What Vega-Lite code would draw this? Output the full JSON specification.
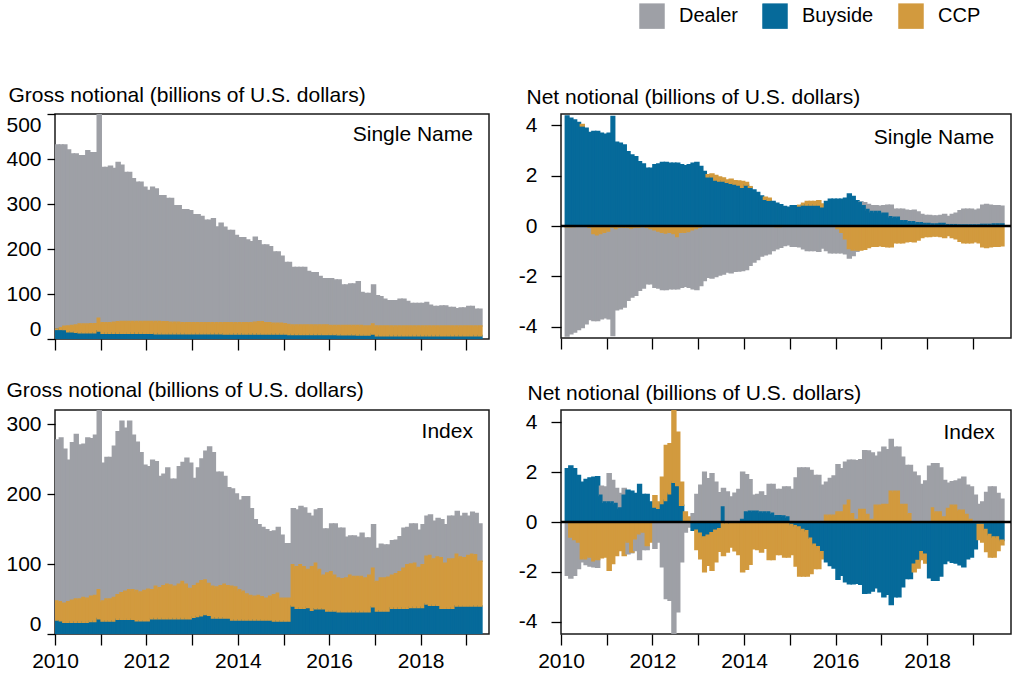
{
"$schema": "https://vega.github.io/schema/vega-lite/v6.json",
"padding": {"left": 5, "top": 3, "right": 3, "bottom": 5},
"columns": 2,
"bounds": "flush",
"spacing": {"row": 71, "column": 72},
"config": {
  "font": "Liberation Sans",
  "view": {"stroke": "#1a1a1a", "strokeWidth": 1.5},
  "bar": {"binSpacing": 0, "timeUnitBandSize": 1},
  "axis": {"domain": false, "grid": false, "labelFont": "Liberation Sans", "labelFontSize": 21, "labelColor": "#000", "tickColor": "#000", "tickWidth": 1.3, "titleFont": "Liberation Sans", "titleFontSize": 21, "titleFontWeight": "normal", "titleColor": "#000"},
  "legend": {"orient": "none", "legendX": 584, "legendY": -111, "direction": "horizontal", "symbolType": "square", "symbolSize": 650, "symbolStrokeWidth": 0, "labelFont": "Liberation Sans", "labelFontSize": 20, "labelColor": "#000", "labelOffset": 14, "columnPadding": 24, "title": null}
},
"datasets": {
"gsn": [
{"d":"2010-01","Buyside":21.5,"CCP":0.5,"Dealer":409},{"d":"2010-02","Buyside":21.5,"CCP":3.5,"Dealer":406},{"d":"2010-03","Buyside":21,"CCP":7,"Dealer":403},{"d":"2010-04","Buyside":16,"CCP":13,"Dealer":391},{"d":"2010-05","Buyside":16,"CCP":14,"Dealer":381},{"d":"2010-06","Buyside":15,"CCP":16,"Dealer":380},{"d":"2010-07","Buyside":14,"CCP":19,"Dealer":374},{"d":"2010-08","Buyside":14,"CCP":19,"Dealer":374},{"d":"2010-09","Buyside":14,"CCP":19,"Dealer":385},{"d":"2010-10","Buyside":14,"CCP":20,"Dealer":380},{"d":"2010-11","Buyside":14,"CCP":20,"Dealer":380},{"d":"2010-12","Buyside":18,"CCP":28,"Dealer":484},
{"d":"2011-01","Buyside":13,"CCP":23,"Dealer":345},{"d":"2011-02","Buyside":13,"CCP":23,"Dealer":345},{"d":"2011-03","Buyside":13,"CCP":23,"Dealer":348},{"d":"2011-04","Buyside":13,"CCP":24,"Dealer":342},{"d":"2011-05","Buyside":13,"CCP":25,"Dealer":354},{"d":"2011-06","Buyside":13,"CCP":26,"Dealer":347},{"d":"2011-07","Buyside":13,"CCP":26,"Dealer":331},{"d":"2011-08","Buyside":13,"CCP":26,"Dealer":331},{"d":"2011-09","Buyside":13,"CCP":26,"Dealer":317},{"d":"2011-10","Buyside":13,"CCP":26,"Dealer":309},{"d":"2011-11","Buyside":13,"CCP":26,"Dealer":309},{"d":"2011-12","Buyside":13,"CCP":26,"Dealer":298},
{"d":"2012-01","Buyside":13,"CCP":26,"Dealer":291},{"d":"2012-02","Buyside":13,"CCP":26,"Dealer":298},{"d":"2012-03","Buyside":12,"CCP":27,"Dealer":294},{"d":"2012-04","Buyside":12,"CCP":27,"Dealer":279},{"d":"2012-05","Buyside":12,"CCP":26,"Dealer":280},{"d":"2012-06","Buyside":12,"CCP":26,"Dealer":274},{"d":"2012-07","Buyside":12,"CCP":25,"Dealer":275},{"d":"2012-08","Buyside":12,"CCP":25,"Dealer":259},{"d":"2012-09","Buyside":12,"CCP":25,"Dealer":259},{"d":"2012-10","Buyside":12,"CCP":24,"Dealer":251},{"d":"2012-11","Buyside":12,"CCP":24,"Dealer":251},{"d":"2012-12","Buyside":12,"CCP":24,"Dealer":249},
{"d":"2013-01","Buyside":12,"CCP":24,"Dealer":240},{"d":"2013-02","Buyside":12,"CCP":24,"Dealer":240},{"d":"2013-03","Buyside":12,"CCP":24,"Dealer":236},{"d":"2013-04","Buyside":12,"CCP":24,"Dealer":228},{"d":"2013-05","Buyside":12,"CCP":24,"Dealer":228},{"d":"2013-06","Buyside":12,"CCP":24,"Dealer":231},{"d":"2013-07","Buyside":12,"CCP":24,"Dealer":213},{"d":"2013-08","Buyside":12,"CCP":24,"Dealer":221},{"d":"2013-09","Buyside":11.5,"CCP":24.5,"Dealer":212},{"d":"2013-10","Buyside":11.5,"CCP":24.5,"Dealer":205},{"d":"2013-11","Buyside":11.5,"CCP":24.5,"Dealer":205},{"d":"2013-12","Buyside":11.5,"CCP":24.5,"Dealer":194},
{"d":"2014-01","Buyside":11.5,"CCP":24.5,"Dealer":189},{"d":"2014-02","Buyside":11.5,"CCP":24.5,"Dealer":189},{"d":"2014-03","Buyside":11.5,"CCP":24.5,"Dealer":184},{"d":"2014-04","Buyside":11.5,"CCP":24.5,"Dealer":180},{"d":"2014-05","Buyside":11.5,"CCP":25.5,"Dealer":189},{"d":"2014-06","Buyside":11.5,"CCP":26.5,"Dealer":180},{"d":"2014-07","Buyside":11.5,"CCP":26.5,"Dealer":171},{"d":"2014-08","Buyside":11.5,"CCP":24.5,"Dealer":173},{"d":"2014-09","Buyside":11,"CCP":25,"Dealer":169},{"d":"2014-10","Buyside":11,"CCP":24,"Dealer":158},{"d":"2014-11","Buyside":11,"CCP":24,"Dealer":158},{"d":"2014-12","Buyside":11,"CCP":24,"Dealer":149},
{"d":"2015-01","Buyside":11,"CCP":23,"Dealer":136},{"d":"2015-02","Buyside":10,"CCP":22,"Dealer":138},{"d":"2015-03","Buyside":10,"CCP":21,"Dealer":128},{"d":"2015-04","Buyside":10,"CCP":21,"Dealer":128},{"d":"2015-05","Buyside":10,"CCP":21,"Dealer":128},{"d":"2015-06","Buyside":10,"CCP":21,"Dealer":128},{"d":"2015-07","Buyside":10,"CCP":21,"Dealer":119},{"d":"2015-08","Buyside":10,"CCP":21,"Dealer":116},{"d":"2015-09","Buyside":10,"CCP":21,"Dealer":116},{"d":"2015-10","Buyside":10,"CCP":21,"Dealer":108},{"d":"2015-11","Buyside":10,"CCP":21,"Dealer":103},{"d":"2015-12","Buyside":10,"CCP":21,"Dealer":103},
{"d":"2016-01","Buyside":10,"CCP":20,"Dealer":104},{"d":"2016-02","Buyside":10,"CCP":20,"Dealer":101},{"d":"2016-03","Buyside":9.5,"CCP":20.5,"Dealer":101},{"d":"2016-04","Buyside":9.5,"CCP":20.5,"Dealer":90},{"d":"2016-05","Buyside":9.5,"CCP":20.5,"Dealer":90},{"d":"2016-06","Buyside":9.5,"CCP":20.5,"Dealer":92},{"d":"2016-07","Buyside":9.5,"CCP":20.5,"Dealer":92},{"d":"2016-08","Buyside":9,"CCP":21,"Dealer":97},{"d":"2016-09","Buyside":9,"CCP":21,"Dealer":73},{"d":"2016-10","Buyside":9,"CCP":20,"Dealer":72},{"d":"2016-11","Buyside":9,"CCP":20,"Dealer":72},{"d":"2016-12","Buyside":11,"CCP":22,"Dealer":87},
{"d":"2017-01","Buyside":7.5,"CCP":21.5,"Dealer":67},{"d":"2017-02","Buyside":7.5,"CCP":21.5,"Dealer":65},{"d":"2017-03","Buyside":7.5,"CCP":21.5,"Dealer":59},{"d":"2017-04","Buyside":7.5,"CCP":21.5,"Dealer":56},{"d":"2017-05","Buyside":7.5,"CCP":21.5,"Dealer":56},{"d":"2017-06","Buyside":7.5,"CCP":21.5,"Dealer":56},{"d":"2017-07","Buyside":7.5,"CCP":21.5,"Dealer":59},{"d":"2017-08","Buyside":7.5,"CCP":21.5,"Dealer":59},{"d":"2017-09","Buyside":7.5,"CCP":21.5,"Dealer":54},{"d":"2017-10","Buyside":7.5,"CCP":21.5,"Dealer":50},{"d":"2017-11","Buyside":7.5,"CCP":21.5,"Dealer":50},{"d":"2017-12","Buyside":7.5,"CCP":21.5,"Dealer":50},
{"d":"2018-01","Buyside":7.5,"CCP":21.5,"Dealer":50},{"d":"2018-02","Buyside":7.5,"CCP":21.5,"Dealer":52},{"d":"2018-03","Buyside":7.5,"CCP":21.5,"Dealer":46},{"d":"2018-04","Buyside":7.5,"CCP":21.5,"Dealer":43},{"d":"2018-05","Buyside":7.5,"CCP":21.5,"Dealer":43},{"d":"2018-06","Buyside":7.5,"CCP":21.5,"Dealer":44},{"d":"2018-07","Buyside":7.5,"CCP":21.5,"Dealer":44},{"d":"2018-08","Buyside":7.5,"CCP":21.5,"Dealer":41},{"d":"2018-09","Buyside":7.5,"CCP":21.5,"Dealer":41},{"d":"2018-10","Buyside":7.5,"CCP":21.5,"Dealer":38},{"d":"2018-11","Buyside":7.5,"CCP":21.5,"Dealer":40},{"d":"2018-12","Buyside":7.5,"CCP":21.5,"Dealer":40},
{"d":"2019-01","Buyside":7.5,"CCP":21.5,"Dealer":43},{"d":"2019-02","Buyside":7.5,"CCP":21.5,"Dealer":43},{"d":"2019-03","Buyside":7.5,"CCP":21.5,"Dealer":37},{"d":"2019-04","Buyside":7.5,"CCP":21.5,"Dealer":37}
],
"gix": [
{"d":"2010-01","Buyside":20,"CCP":27,"Dealer":230},{"d":"2010-02","Buyside":19,"CCP":27,"Dealer":234},{"d":"2010-03","Buyside":17,"CCP":27,"Dealer":220},{"d":"2010-04","Buyside":17,"CCP":29,"Dealer":202},{"d":"2010-05","Buyside":17,"CCP":31,"Dealer":225},{"d":"2010-06","Buyside":17,"CCP":33,"Dealer":235},{"d":"2010-07","Buyside":17,"CCP":33,"Dealer":220},{"d":"2010-08","Buyside":17,"CCP":35,"Dealer":219},{"d":"2010-09","Buyside":17,"CCP":34,"Dealer":229},{"d":"2010-10","Buyside":18,"CCP":36,"Dealer":225},{"d":"2010-11","Buyside":18,"CCP":37,"Dealer":229},{"d":"2010-12","Buyside":22,"CCP":41,"Dealer":277},
{"d":"2011-01","Buyside":18.5,"CCP":28.5,"Dealer":197},{"d":"2011-02","Buyside":18.5,"CCP":31.5,"Dealer":202},{"d":"2011-03","Buyside":18.5,"CCP":31.5,"Dealer":202},{"d":"2011-04","Buyside":18.5,"CCP":33.5,"Dealer":216},{"d":"2011-05","Buyside":21,"CCP":35,"Dealer":233},{"d":"2011-06","Buyside":21,"CCP":38,"Dealer":245},{"d":"2011-07","Buyside":21,"CCP":40,"Dealer":233},{"d":"2011-08","Buyside":21,"CCP":42,"Dealer":241},{"d":"2011-09","Buyside":21,"CCP":42,"Dealer":221},{"d":"2011-10","Buyside":19,"CCP":43,"Dealer":212},{"d":"2011-11","Buyside":19,"CCP":41,"Dealer":199},{"d":"2011-12","Buyside":19,"CCP":43,"Dealer":179},
{"d":"2012-01","Buyside":19,"CCP":45,"Dealer":175},{"d":"2012-02","Buyside":22,"CCP":41,"Dealer":185},{"d":"2012-03","Buyside":22,"CCP":46,"Dealer":178},{"d":"2012-04","Buyside":22,"CCP":44,"Dealer":159},{"d":"2012-05","Buyside":22,"CCP":47,"Dealer":159},{"d":"2012-06","Buyside":22,"CCP":49,"Dealer":166},{"d":"2012-07","Buyside":22,"CCP":48,"Dealer":151},{"d":"2012-08","Buyside":22,"CCP":46,"Dealer":153},{"d":"2012-09","Buyside":22,"CCP":49,"Dealer":168},{"d":"2012-10","Buyside":22,"CCP":53,"Dealer":170},{"d":"2012-11","Buyside":22,"CCP":49,"Dealer":180},{"d":"2012-12","Buyside":22,"CCP":43,"Dealer":179},
{"d":"2013-01","Buyside":24,"CCP":45,"Dealer":153},{"d":"2013-02","Buyside":25,"CCP":47,"Dealer":165},{"d":"2013-03","Buyside":26,"CCP":50,"Dealer":174},{"d":"2013-04","Buyside":28,"CCP":49,"Dealer":184},{"d":"2013-05","Buyside":27,"CCP":45,"Dealer":195},{"d":"2013-06","Buyside":23,"CCP":45,"Dealer":191},{"d":"2013-07","Buyside":23,"CCP":44,"Dealer":164},{"d":"2013-08","Buyside":23,"CCP":46,"Dealer":162},{"d":"2013-09","Buyside":23,"CCP":48,"Dealer":154},{"d":"2013-10","Buyside":23,"CCP":46,"Dealer":140},{"d":"2013-11","Buyside":20,"CCP":48,"Dealer":139},{"d":"2013-12","Buyside":20,"CCP":47,"Dealer":133},
{"d":"2014-01","Buyside":20,"CCP":43,"Dealer":128},{"d":"2014-02","Buyside":20,"CCP":41,"Dealer":135},{"d":"2014-03","Buyside":20,"CCP":37,"Dealer":139},{"d":"2014-04","Buyside":20,"CCP":35,"Dealer":124},{"d":"2014-05","Buyside":20,"CCP":34,"Dealer":109},{"d":"2014-06","Buyside":20,"CCP":35,"Dealer":101},{"d":"2014-07","Buyside":20,"CCP":33,"Dealer":99},{"d":"2014-08","Buyside":20,"CCP":31,"Dealer":98},{"d":"2014-09","Buyside":20,"CCP":34,"Dealer":92},{"d":"2014-10","Buyside":18.5,"CCP":37.5,"Dealer":91},{"d":"2014-11","Buyside":18.5,"CCP":39.5,"Dealer":94},{"d":"2014-12","Buyside":18.5,"CCP":32.5,"Dealer":90},
{"d":"2015-01","Buyside":18.5,"CCP":32.5,"Dealer":78},{"d":"2015-02","Buyside":18.5,"CCP":32.5,"Dealer":78},{"d":"2015-03","Buyside":40,"CCP":59,"Dealer":80},{"d":"2015-04","Buyside":37,"CCP":59,"Dealer":81},{"d":"2015-05","Buyside":37,"CCP":62,"Dealer":83},{"d":"2015-06","Buyside":37,"CCP":59,"Dealer":84},{"d":"2015-07","Buyside":38,"CCP":54,"Dealer":80},{"d":"2015-08","Buyside":34,"CCP":62,"Dealer":72},{"d":"2015-09","Buyside":36,"CCP":65,"Dealer":76},{"d":"2015-10","Buyside":36,"CCP":56,"Dealer":87},{"d":"2015-11","Buyside":36,"CCP":48,"Dealer":66},{"d":"2015-12","Buyside":33,"CCP":54,"Dealer":63},
{"d":"2016-01","Buyside":33,"CCP":56,"Dealer":68},{"d":"2016-02","Buyside":33,"CCP":51,"Dealer":73},{"d":"2016-03","Buyside":32,"CCP":48,"Dealer":71},{"d":"2016-04","Buyside":32,"CCP":47,"Dealer":72},{"d":"2016-05","Buyside":32,"CCP":48,"Dealer":58},{"d":"2016-06","Buyside":32,"CCP":52,"Dealer":56},{"d":"2016-07","Buyside":32,"CCP":50,"Dealer":58},{"d":"2016-08","Buyside":32,"CCP":50,"Dealer":56},{"d":"2016-09","Buyside":32,"CCP":50,"Dealer":62},{"d":"2016-10","Buyside":32,"CCP":48,"Dealer":57},{"d":"2016-11","Buyside":32,"CCP":52,"Dealer":53},{"d":"2016-12","Buyside":39,"CCP":55,"Dealer":62},
{"d":"2017-01","Buyside":33,"CCP":42,"Dealer":47},{"d":"2017-02","Buyside":33,"CCP":47,"Dealer":48},{"d":"2017-03","Buyside":33,"CCP":47,"Dealer":47},{"d":"2017-04","Buyside":33,"CCP":48,"Dealer":46},{"d":"2017-05","Buyside":37,"CCP":47,"Dealer":49},{"d":"2017-06","Buyside":37,"CCP":49,"Dealer":48},{"d":"2017-07","Buyside":37,"CCP":52,"Dealer":50},{"d":"2017-08","Buyside":37,"CCP":57,"Dealer":57},{"d":"2017-09","Buyside":37,"CCP":62,"Dealer":53},{"d":"2017-10","Buyside":38,"CCP":62,"Dealer":57},{"d":"2017-11","Buyside":38,"CCP":63,"Dealer":56},{"d":"2017-12","Buyside":38,"CCP":57,"Dealer":53},
{"d":"2018-01","Buyside":38,"CCP":61,"Dealer":57},{"d":"2018-02","Buyside":43,"CCP":68,"Dealer":57},{"d":"2018-03","Buyside":41,"CCP":71,"Dealer":58},{"d":"2018-04","Buyside":41,"CCP":66,"Dealer":54},{"d":"2018-05","Buyside":41,"CCP":69,"Dealer":55},{"d":"2018-06","Buyside":37,"CCP":72,"Dealer":54},{"d":"2018-07","Buyside":37,"CCP":64,"Dealer":55},{"d":"2018-08","Buyside":37,"CCP":70,"Dealer":61},{"d":"2018-09","Buyside":37,"CCP":70,"Dealer":61},{"d":"2018-10","Buyside":40,"CCP":74,"Dealer":61},{"d":"2018-11","Buyside":40,"CCP":70,"Dealer":58},{"d":"2018-12","Buyside":40,"CCP":69,"Dealer":63},
{"d":"2019-01","Buyside":40,"CCP":72,"Dealer":56},{"d":"2019-02","Buyside":40,"CCP":74,"Dealer":60},{"d":"2019-03","Buyside":40,"CCP":73,"Dealer":59},{"d":"2019-04","Buyside":40,"CCP":64,"Dealer":53}
],
"nsn": [
{"d":"2010-02","Buyside":4.37,"CCP":-0.03,"Dealer":-4.34},{"d":"2010-03","Buyside":4.28,"CCP":-0.03,"Dealer":-4.25},{"d":"2010-04","Buyside":4.21,"CCP":-0.02,"Dealer":-4.19},{"d":"2010-05","Buyside":4.11,"CCP":0,"Dealer":-4.11},{"d":"2010-06","Buyside":3.98,"CCP":0.05,"Dealer":-4.03},{"d":"2010-07","Buyside":3.88,"CCP":0,"Dealer":-3.88},{"d":"2010-08","Buyside":3.71,"CCP":-0.05,"Dealer":-3.66},{"d":"2010-09","Buyside":3.75,"CCP":-0.3,"Dealer":-3.45},{"d":"2010-10","Buyside":3.75,"CCP":-0.35,"Dealer":-3.4},{"d":"2010-11","Buyside":3.68,"CCP":-0.3,"Dealer":-3.38},{"d":"2010-12","Buyside":3.64,"CCP":-0.25,"Dealer":-3.39},
{"d":"2011-01","Buyside":3.68,"CCP":-0.2,"Dealer":-3.48},{"d":"2011-02","Buyside":4.35,"CCP":-0.05,"Dealer":-4.3},{"d":"2011-03","Buyside":3.33,"CCP":-0.1,"Dealer":-3.23},{"d":"2011-04","Buyside":3.29,"CCP":-0.05,"Dealer":-3.24},{"d":"2011-05","Buyside":3.22,"CCP":-0.05,"Dealer":-3.17},{"d":"2011-06","Buyside":2.95,"CCP":-0.05,"Dealer":-2.9},{"d":"2011-07","Buyside":2.82,"CCP":-0.08,"Dealer":-2.74},{"d":"2011-08","Buyside":2.75,"CCP":-0.05,"Dealer":-2.7},{"d":"2011-09","Buyside":2.55,"CCP":-0.05,"Dealer":-2.5},{"d":"2011-10","Buyside":2.46,"CCP":-0.02,"Dealer":-2.44},{"d":"2011-11","Buyside":2.29,"CCP":-0.05,"Dealer":-2.24},{"d":"2011-12","Buyside":2.29,"CCP":-0.1,"Dealer":-2.19},
{"d":"2012-01","Buyside":2.43,"CCP":-0.15,"Dealer":-2.28},{"d":"2012-02","Buyside":2.46,"CCP":-0.2,"Dealer":-2.26},{"d":"2012-03","Buyside":2.52,"CCP":-0.25,"Dealer":-2.27},{"d":"2012-04","Buyside":2.52,"CCP":-0.28,"Dealer":-2.24},{"d":"2012-05","Buyside":2.49,"CCP":-0.25,"Dealer":-2.24},{"d":"2012-06","Buyside":2.49,"CCP":-0.3,"Dealer":-2.19},{"d":"2012-07","Buyside":2.49,"CCP":-0.42,"Dealer":-2.07},{"d":"2012-08","Buyside":2.43,"CCP":-0.25,"Dealer":-2.18},{"d":"2012-09","Buyside":2.39,"CCP":-0.25,"Dealer":-2.14},{"d":"2012-10","Buyside":2.43,"CCP":-0.22,"Dealer":-2.21},{"d":"2012-11","Buyside":2.49,"CCP":-0.15,"Dealer":-2.34},{"d":"2012-12","Buyside":2.52,"CCP":-0.1,"Dealer":-2.42},
{"d":"2013-01","Buyside":2.36,"CCP":-0.05,"Dealer":-2.31},{"d":"2013-02","Buyside":2.16,"CCP":0,"Dealer":-2.16},{"d":"2013-03","Buyside":1.96,"CCP":0.07,"Dealer":-2.03},{"d":"2013-04","Buyside":1.96,"CCP":0.1,"Dealer":-2.06},{"d":"2013-05","Buyside":1.83,"CCP":0.17,"Dealer":-2.0},{"d":"2013-06","Buyside":1.79,"CCP":0.15,"Dealer":-1.94},{"d":"2013-07","Buyside":1.79,"CCP":0.12,"Dealer":-1.91},{"d":"2013-08","Buyside":1.74,"CCP":0.09,"Dealer":-1.83},{"d":"2013-09","Buyside":1.7,"CCP":0.16,"Dealer":-1.86},{"d":"2013-10","Buyside":1.67,"CCP":0.13,"Dealer":-1.8},{"d":"2013-11","Buyside":1.63,"CCP":0.16,"Dealer":-1.79},{"d":"2013-12","Buyside":1.54,"CCP":0.23,"Dealer":-1.77},
{"d":"2014-01","Buyside":1.63,"CCP":0.1,"Dealer":-1.73},{"d":"2014-02","Buyside":1.54,"CCP":0.02,"Dealer":-1.56},{"d":"2014-03","Buyside":1.43,"CCP":0,"Dealer":-1.43},{"d":"2014-04","Buyside":1.33,"CCP":0,"Dealer":-1.33},{"d":"2014-05","Buyside":1.19,"CCP":0,"Dealer":-1.19},{"d":"2014-06","Buyside":1.06,"CCP":0.08,"Dealer":-1.14},{"d":"2014-07","Buyside":1.03,"CCP":0.07,"Dealer":-1.1},{"d":"2014-08","Buyside":0.97,"CCP":0,"Dealer":-0.97},{"d":"2014-09","Buyside":0.9,"CCP":-0.02,"Dealer":-0.88},{"d":"2014-10","Buyside":0.84,"CCP":-0.02,"Dealer":-0.82},{"d":"2014-11","Buyside":0.77,"CCP":0,"Dealer":-0.77},{"d":"2014-12","Buyside":0.74,"CCP":0,"Dealer":-0.74},
{"d":"2015-01","Buyside":0.8,"CCP":0,"Dealer":-0.8},{"d":"2015-02","Buyside":0.8,"CCP":0,"Dealer":-0.8},{"d":"2015-03","Buyside":0.8,"CCP":0.02,"Dealer":-0.82},{"d":"2015-04","Buyside":0.84,"CCP":0.06,"Dealer":-0.9},{"d":"2015-05","Buyside":0.84,"CCP":0.13,"Dealer":-0.97},{"d":"2015-06","Buyside":0.84,"CCP":0.13,"Dealer":-0.97},{"d":"2015-07","Buyside":0.84,"CCP":0.13,"Dealer":-0.97},{"d":"2015-08","Buyside":0.84,"CCP":0.16,"Dealer":-1.0},{"d":"2015-09","Buyside":0.77,"CCP":0.1,"Dealer":-0.87},{"d":"2015-10","Buyside":0.97,"CCP":0,"Dealer":-0.97},{"d":"2015-11","Buyside":1.06,"CCP":0,"Dealer":-1.06},{"d":"2015-12","Buyside":1.06,"CCP":0,"Dealer":-1.06},
{"d":"2016-01","Buyside":1.06,"CCP":-0.1,"Dealer":-0.96},{"d":"2016-02","Buyside":1.06,"CCP":-0.25,"Dealer":-0.81},{"d":"2016-03","Buyside":1.1,"CCP":-0.5,"Dealer":-0.6},{"d":"2016-04","Buyside":1.27,"CCP":-0.89,"Dealer":-0.38},{"d":"2016-05","Buyside":1.17,"CCP":-0.95,"Dealer":-0.22},{"d":"2016-06","Buyside":1.0,"CCP":-0.95,"Dealer":-0.05},{"d":"2016-07","Buyside":0.93,"CCP":-0.95,"Dealer":0.02},{"d":"2016-08","Buyside":0.8,"CCP":-0.92,"Dealer":0.12},{"d":"2016-09","Buyside":0.65,"CCP":-0.85,"Dealer":0.2},{"d":"2016-10","Buyside":0.57,"CCP":-0.8,"Dealer":0.23},{"d":"2016-11","Buyside":0.57,"CCP":-0.8,"Dealer":0.23},{"d":"2016-12","Buyside":0.57,"CCP":-0.78,"Dealer":0.21},
{"d":"2017-01","Buyside":0.5,"CCP":-0.8,"Dealer":0.3},{"d":"2017-02","Buyside":0.5,"CCP":-0.82,"Dealer":0.32},{"d":"2017-03","Buyside":0.37,"CCP":-0.82,"Dealer":0.45},{"d":"2017-04","Buyside":0.35,"CCP":-0.66,"Dealer":0.31},{"d":"2017-05","Buyside":0.35,"CCP":-0.66,"Dealer":0.31},{"d":"2017-06","Buyside":0.21,"CCP":-0.66,"Dealer":0.45},{"d":"2017-07","Buyside":0.21,"CCP":-0.62,"Dealer":0.41},{"d":"2017-08","Buyside":0.17,"CCP":-0.6,"Dealer":0.43},{"d":"2017-09","Buyside":0.17,"CCP":-0.62,"Dealer":0.45},{"d":"2017-10","Buyside":0.13,"CCP":-0.55,"Dealer":0.42},{"d":"2017-11","Buyside":0.13,"CCP":-0.45,"Dealer":0.32},{"d":"2017-12","Buyside":0.1,"CCP":-0.42,"Dealer":0.32},
{"d":"2018-01","Buyside":0.1,"CCP":-0.42,"Dealer":0.32},{"d":"2018-02","Buyside":0.08,"CCP":-0.4,"Dealer":0.32},{"d":"2018-03","Buyside":0.08,"CCP":-0.4,"Dealer":0.32},{"d":"2018-04","Buyside":0.1,"CCP":-0.42,"Dealer":0.32},{"d":"2018-05","Buyside":0.1,"CCP":-0.45,"Dealer":0.35},{"d":"2018-06","Buyside":0.05,"CCP":-0.38,"Dealer":0.33},{"d":"2018-07","Buyside":0.05,"CCP":-0.45,"Dealer":0.4},{"d":"2018-08","Buyside":0.05,"CCP":-0.5,"Dealer":0.45},{"d":"2018-09","Buyside":0.04,"CCP":-0.6,"Dealer":0.56},{"d":"2018-10","Buyside":0.04,"CCP":-0.66,"Dealer":0.62},{"d":"2018-11","Buyside":0.04,"CCP":-0.66,"Dealer":0.62},{"d":"2018-12","Buyside":0.04,"CCP":-0.66,"Dealer":0.62},
{"d":"2019-01","Buyside":0.04,"CCP":-0.62,"Dealer":0.58},{"d":"2019-02","Buyside":0.04,"CCP":-0.66,"Dealer":0.62},{"d":"2019-03","Buyside":0.06,"CCP":-0.82,"Dealer":0.76},{"d":"2019-04","Buyside":0.06,"CCP":-0.85,"Dealer":0.79},{"d":"2019-05","Buyside":0.06,"CCP":-0.82,"Dealer":0.76},{"d":"2019-06","Buyside":0.08,"CCP":-0.8,"Dealer":0.72},{"d":"2019-07","Buyside":0.08,"CCP":-0.8,"Dealer":0.72},{"d":"2019-08","Buyside":0.08,"CCP":-0.78,"Dealer":0.7}
],
"nix": [
{"d":"2010-02","Buyside":2.14,"CCP":0,"Dealer":-2.14},{"d":"2010-03","Buyside":2.25,"CCP":-0.6,"Dealer":-1.65},{"d":"2010-04","Buyside":2.14,"CCP":-0.7,"Dealer":-1.44},{"d":"2010-05","Buyside":1.87,"CCP":-0.8,"Dealer":-1.07},{"d":"2010-06","Buyside":1.6,"CCP":-1.47,"Dealer":-0.13},{"d":"2010-07","Buyside":1.71,"CCP":-1.47,"Dealer":-0.24},{"d":"2010-08","Buyside":1.77,"CCP":-1.4,"Dealer":-0.37},{"d":"2010-09","Buyside":1.8,"CCP":-1.55,"Dealer":-0.25},{"d":"2010-10","Buyside":1.82,"CCP":-1.5,"Dealer":-0.32},{"d":"2010-11","Buyside":1.07,"CCP":-1.43,"Dealer":0.36},{"d":"2010-12","Buyside":0.8,"CCP":-1.4,"Dealer":0.6},
{"d":"2011-01","Buyside":0.8,"CCP":-1.94,"Dealer":1.14},{"d":"2011-02","Buyside":0.8,"CCP":-1.67,"Dealer":0.87},{"d":"2011-03","Buyside":0.74,"CCP":-1.34,"Dealer":0.6},{"d":"2011-04","Buyside":0.56,"CCP":-1.14,"Dealer":0.58},{"d":"2011-05","Buyside":1.07,"CCP":-1.34,"Dealer":0.27},{"d":"2011-06","Buyside":1.27,"CCP":-0.8,"Dealer":-0.47},{"d":"2011-07","Buyside":1.23,"CCP":-1.2,"Dealer":-0.03},{"d":"2011-08","Buyside":1.14,"CCP":-0.67,"Dealer":-0.47},{"d":"2011-09","Buyside":1.5,"CCP":-0.47,"Dealer":-1.03},{"d":"2011-10","Buyside":1.1,"CCP":-0.4,"Dealer":-0.7},{"d":"2011-11","Buyside":1.1,"CCP":-0.94,"Dealer":-0.16},{"d":"2011-12","Buyside":0.8,"CCP":-0.8,"Dealer":0},
{"d":"2012-01","Buyside":0.6,"CCP":0.45,"Dealer":-1.05},{"d":"2012-02","Buyside":0.55,"CCP":0.25,"Dealer":-0.8},{"d":"2012-03","Buyside":0.75,"CCP":1.05,"Dealer":-1.8},{"d":"2012-04","Buyside":0.87,"CCP":2.2,"Dealer":-3.07},{"d":"2012-05","Buyside":1.14,"CCP":2.0,"Dealer":-3.14},{"d":"2012-06","Buyside":1.6,"CCP":2.9,"Dealer":-4.5},{"d":"2012-07","Buyside":1.47,"CCP":2.13,"Dealer":-3.6},{"d":"2012-08","Buyside":0.67,"CCP":0.93,"Dealer":-1.6},{"d":"2012-09","Buyside":0.07,"CCP":0.33,"Dealer":-0.4},{"d":"2012-10","Buyside":0,"CCP":0.2,"Dealer":-0.2},{"d":"2012-11","Buyside":-0.33,"CCP":0,"Dealer":0.33},{"d":"2012-12","Buyside":-0.33,"CCP":-0.77,"Dealer":1.1},
{"d":"2013-01","Buyside":-0.45,"CCP":-1.02,"Dealer":1.47},{"d":"2013-02","Buyside":-0.6,"CCP":-1.4,"Dealer":2.0},{"d":"2013-03","Buyside":-0.53,"CCP":-1.21,"Dealer":1.74},{"d":"2013-04","Buyside":-0.43,"CCP":-1.51,"Dealer":1.94},{"d":"2013-05","Buyside":-0.33,"CCP":-1.27,"Dealer":1.6},{"d":"2013-06","Buyside":-0.27,"CCP":-0.9,"Dealer":1.17},{"d":"2013-07","Buyside":0.6,"CCP":-1.34,"Dealer":0.74},{"d":"2013-08","Buyside":-0.05,"CCP":-1.15,"Dealer":1.2},{"d":"2013-09","Buyside":-0.05,"CCP":-0.95,"Dealer":1.0},{"d":"2013-10","Buyside":0,"CCP":-1.15,"Dealer":1.15},{"d":"2013-11","Buyside":0,"CCP":-1.3,"Dealer":1.3},{"d":"2013-12","Buyside":0.1,"CCP":-2.0,"Dealer":1.9},
{"d":"2014-01","Buyside":0.4,"CCP":-1.9,"Dealer":1.5},{"d":"2014-02","Buyside":0.43,"CCP":-1.7,"Dealer":1.27},{"d":"2014-03","Buyside":0.43,"CCP":-1.07,"Dealer":0.64},{"d":"2014-04","Buyside":0.43,"CCP":-1.1,"Dealer":0.67},{"d":"2014-05","Buyside":0.4,"CCP":-1.2,"Dealer":0.8},{"d":"2014-06","Buyside":0.4,"CCP":-1.05,"Dealer":0.65},{"d":"2014-07","Buyside":0.4,"CCP":-1.5,"Dealer":1.1},{"d":"2014-08","Buyside":0.35,"CCP":-1.5,"Dealer":1.15},{"d":"2014-09","Buyside":0.25,"CCP":-1.3,"Dealer":1.05},{"d":"2014-10","Buyside":0.25,"CCP":-1.3,"Dealer":1.05},{"d":"2014-11","Buyside":0.24,"CCP":-1.4,"Dealer":1.16},{"d":"2014-12","Buyside":0.2,"CCP":-1.4,"Dealer":1.2},
{"d":"2015-01","Buyside":-0.1,"CCP":-1.2,"Dealer":1.3},{"d":"2015-02","Buyside":-0.15,"CCP":-1.62,"Dealer":1.77},{"d":"2015-03","Buyside":-0.2,"CCP":-1.97,"Dealer":2.17},{"d":"2015-04","Buyside":-0.3,"CCP":-1.87,"Dealer":2.17},{"d":"2015-05","Buyside":-0.35,"CCP":-1.82,"Dealer":2.17},{"d":"2015-06","Buyside":-0.65,"CCP":-1.42,"Dealer":2.07},{"d":"2015-07","Buyside":-0.9,"CCP":-0.97,"Dealer":1.87},{"d":"2015-08","Buyside":-1.0,"CCP":-0.87,"Dealer":1.87},{"d":"2015-09","Buyside":-1.2,"CCP":-0.27,"Dealer":1.47},{"d":"2015-10","Buyside":-1.6,"CCP":0.27,"Dealer":1.33},{"d":"2015-11","Buyside":-1.75,"CCP":0.27,"Dealer":1.48},{"d":"2015-12","Buyside":-1.85,"CCP":0.27,"Dealer":1.58},
{"d":"2016-01","Buyside":-2.3,"CCP":0.4,"Dealer":1.9},{"d":"2016-02","Buyside":-2.14,"CCP":0.4,"Dealer":1.74},{"d":"2016-03","Buyside":-2.4,"CCP":0.67,"Dealer":1.73},{"d":"2016-04","Buyside":-2.48,"CCP":0.87,"Dealer":1.61},{"d":"2016-05","Buyside":-2.48,"CCP":0.33,"Dealer":2.15},{"d":"2016-06","Buyside":-2.46,"CCP":0.1,"Dealer":2.36},{"d":"2016-07","Buyside":-2.5,"CCP":0.5,"Dealer":2.0},{"d":"2016-08","Buyside":-2.86,"CCP":0.5,"Dealer":2.36},{"d":"2016-09","Buyside":-2.85,"CCP":0.3,"Dealer":2.55},{"d":"2016-10","Buyside":-2.77,"CCP":0.1,"Dealer":2.67},{"d":"2016-11","Buyside":-2.64,"CCP":0.67,"Dealer":1.97},{"d":"2016-12","Buyside":-2.8,"CCP":0.67,"Dealer":2.13},
{"d":"2017-01","Buyside":-3.0,"CCP":0.7,"Dealer":2.3},{"d":"2017-02","Buyside":-2.9,"CCP":0.7,"Dealer":2.2},{"d":"2017-03","Buyside":-3.31,"CCP":1.23,"Dealer":2.08},{"d":"2017-04","Buyside":-3.0,"CCP":1.23,"Dealer":1.77},{"d":"2017-05","Buyside":-3.0,"CCP":1.23,"Dealer":1.77},{"d":"2017-06","Buyside":-2.6,"CCP":0.7,"Dealer":1.9},{"d":"2017-07","Buyside":-2.27,"CCP":0.7,"Dealer":1.57},{"d":"2017-08","Buyside":-2.27,"CCP":0.33,"Dealer":1.94},{"d":"2017-09","Buyside":-1.7,"CCP":-0.3,"Dealer":2.0},{"d":"2017-10","Buyside":-1.55,"CCP":-0.3,"Dealer":1.85},{"d":"2017-11","Buyside":-1.2,"CCP":-0.3,"Dealer":1.5},{"d":"2017-12","Buyside":-1.3,"CCP":-0.35,"Dealer":1.65},
{"d":"2018-01","Buyside":-2.24,"CCP":0,"Dealer":2.24},{"d":"2018-02","Buyside":-2.34,"CCP":0.56,"Dealer":1.78},{"d":"2018-03","Buyside":-2.34,"CCP":0.4,"Dealer":1.94},{"d":"2018-04","Buyside":-2.17,"CCP":0.4,"Dealer":1.77},{"d":"2018-05","Buyside":-1.67,"CCP":0.2,"Dealer":1.47},{"d":"2018-06","Buyside":-1.55,"CCP":0.54,"Dealer":1.01},{"d":"2018-07","Buyside":-1.62,"CCP":0.67,"Dealer":0.95},{"d":"2018-08","Buyside":-1.65,"CCP":0.67,"Dealer":0.98},{"d":"2018-09","Buyside":-1.72,"CCP":0.47,"Dealer":1.25},{"d":"2018-10","Buyside":-1.8,"CCP":0.47,"Dealer":1.33},{"d":"2018-11","Buyside":-1.47,"CCP":0.3,"Dealer":1.17},{"d":"2018-12","Buyside":-1.4,"CCP":0.1,"Dealer":1.3},
{"d":"2019-01","Buyside":-1.07,"CCP":0,"Dealer":1.07},{"d":"2019-02","Buyside":-0.1,"CCP":-0.6,"Dealer":0.7},{"d":"2019-03","Buyside":-0.1,"CCP":-0.7,"Dealer":0.8},{"d":"2019-04","Buyside":-0.3,"CCP":-0.88,"Dealer":1.18},{"d":"2019-05","Buyside":-0.5,"CCP":-0.9,"Dealer":1.4},{"d":"2019-06","Buyside":-0.6,"CCP":-0.8,"Dealer":1.4},{"d":"2019-07","Buyside":-0.6,"CCP":-0.54,"Dealer":1.14},{"d":"2019-08","Buyside":-0.74,"CCP":-0.17,"Dealer":0.91}
]
},
"concat": [
{
  "width": 434, "height": 225,
  "layer": [
    {
      "data": {"name": "gsn"},
      "transform": [{"fold": ["Dealer", "Buyside", "CCP"], "as": ["s", "v"]}, {"filter": "datum.v != 0"}],
      "mark": {"type": "bar", "clip": true, "strokeWidth": 1.6, "binSpacing": 0, "timeUnitBandSize": 1, "timeUnitBandPosition": 0},
      "encoding": {
        "x": {"field": "d", "type": "temporal", "timeUnit": "utcyearmonth", "title": null,
          "scale": {"domain": [{"year": 2010, "month": 1, "date": 1, "utc": true}, {"year": 2019, "month": 7, "date": 1, "utc": true}]},
          "axis": {"values": [{"year":2010,"utc":true},{"year":2011,"utc":true},{"year":2012,"utc":true},{"year":2013,"utc":true},{"year":2014,"utc":true},{"year":2015,"utc":true},{"year":2016,"utc":true},{"year":2017,"utc":true},{"year":2018,"utc":true},{"year":2019,"utc":true}], "labels": false, "tickSize": 11}},
        "y": {"field": "v", "type": "quantitative", "stack": "zero", "scale": {"domain": [0, 500], "nice": false},
          "axis": {"values": [0, 100, 200, 300, 400, 500], "labelFlush": true, "tickSize": 8, "labelPadding": 6, "title": "Gross notional (billions of U.S. dollars)", "titleAngle": 0, "titleAlign": "left", "titleBaseline": "middle", "titleX": -47, "titleY": -19}},
        "color": {"field": "s", "type": "nominal", "scale": {"domain": ["Dealer", "Buyside", "CCP"], "range": ["#9ea0a6", "#066a9a", "#d29a3e"]}},
        "stroke": {"field": "s", "type": "nominal", "scale": {"domain": ["Dealer", "Buyside", "CCP"], "range": ["#9ea0a6", "#066a9a", "#d29a3e"]}},
        "order": {"field": "s", "sort": "ascending"}
      }
    },
    {
      "data": {"values": [{"label": "Single Name"}]},
      "mark": {"type": "text", "align": "right", "baseline": "middle", "fontSize": 21, "font": "Liberation Sans", "color": "#000"},
      "encoding": {
        "x": {"datum": {"year": 2019, "month": 2, "date": 23, "utc": true}, "type": "temporal"},
        "y": {"datum": 453},
        "text": {"field": "label"}
      }
    }
  ]
},
{
  "width": 450, "height": 224,
  "layer": [
    {
      "data": {"name": "nsn"},
      "transform": [{"fold": ["Dealer", "Buyside", "CCP"], "as": ["s", "v"]}, {"filter": "datum.v != 0"}],
      "mark": {"type": "bar", "clip": true, "strokeWidth": 1.6, "binSpacing": 0, "timeUnitBandSize": 1, "timeUnitBandPosition": 0},
      "encoding": {
        "x": {"field": "d", "type": "temporal", "timeUnit": "utcyearmonth", "title": null,
          "scale": {"domain": [{"year": 2010, "month": 1, "date": 1, "utc": true}, {"year": 2019, "month": 11, "date": 1, "utc": true}]},
          "axis": {"values": [{"year":2010,"utc":true},{"year":2011,"utc":true},{"year":2012,"utc":true},{"year":2013,"utc":true},{"year":2014,"utc":true},{"year":2015,"utc":true},{"year":2016,"utc":true},{"year":2017,"utc":true},{"year":2018,"utc":true},{"year":2019,"utc":true}], "labels": false, "tickSize": 11}},
        "y": {"field": "v", "type": "quantitative", "stack": "zero", "scale": {"domain": [-4.45, 4.45], "nice": false},
          "axis": {"values": [-4, -2, 0, 2, 4], "labelExpr": "'' + datum.value", "tickSize": 10, "labelPadding": 14, "title": "Net notional (billions of U.S. dollars)", "titleAngle": 0, "titleAlign": "left", "titleBaseline": "middle", "titleX": -35, "titleY": -17}},
        "color": {"field": "s", "type": "nominal", "scale": {"domain": ["Dealer", "Buyside", "CCP"], "range": ["#9ea0a6", "#066a9a", "#d29a3e"]}},
        "stroke": {"field": "s", "type": "nominal", "scale": {"domain": ["Dealer", "Buyside", "CCP"], "range": ["#9ea0a6", "#066a9a", "#d29a3e"]}},
        "order": {"field": "s", "sort": "ascending"}
      }
    },
    {
      "data": {"values": [{}]},
      "mark": {"type": "rule", "color": "#000", "strokeWidth": 2.5},
      "encoding": {"y": {"datum": 0}}
    },
    {
      "data": {"values": [{"label": "Single Name"}]},
      "mark": {"type": "text", "align": "right", "baseline": "middle", "fontSize": 21, "font": "Liberation Sans", "color": "#000"},
      "encoding": {
        "x": {"datum": {"year": 2019, "month": 6, "date": 19, "utc": true}, "type": "temporal"},
        "y": {"datum": 3.51},
        "text": {"field": "label"}
      }
    }
  ]
},
{
  "width": 434, "height": 224,
  "layer": [
    {
      "data": {"name": "gix"},
      "transform": [{"fold": ["Dealer", "Buyside", "CCP"], "as": ["s", "v"]}, {"filter": "datum.v != 0"}],
      "mark": {"type": "bar", "clip": true, "strokeWidth": 1.6, "binSpacing": 0, "timeUnitBandSize": 1, "timeUnitBandPosition": 0},
      "encoding": {
        "x": {"field": "d", "type": "temporal", "timeUnit": "utcyearmonth", "title": null,
          "scale": {"domain": [{"year": 2010, "month": 1, "date": 1, "utc": true}, {"year": 2019, "month": 7, "date": 1, "utc": true}]},
          "axis": {"values": [{"year":2010,"utc":true},{"year":2011,"utc":true},{"year":2012,"utc":true},{"year":2013,"utc":true},{"year":2014,"utc":true},{"year":2015,"utc":true},{"year":2016,"utc":true},{"year":2017,"utc":true},{"year":2018,"utc":true},{"year":2019,"utc":true}], "labelExpr": "utcyear(datum.value) % 2 == 0 ? utcFormat(datum.value, '%Y') : ''", "tickSize": 11, "labelPadding": 5, "labelFlush": false}},
        "y": {"field": "v", "type": "quantitative", "stack": "zero", "scale": {"domain": [0, 320], "nice": false},
          "axis": {"values": [0, 100, 200, 300], "labelFlush": true, "tickSize": 8, "labelPadding": 6, "title": "Gross notional (billions of U.S. dollars)", "titleAngle": 0, "titleAlign": "left", "titleBaseline": "middle", "titleX": -49, "titleY": -20}},
        "color": {"field": "s", "type": "nominal", "scale": {"domain": ["Dealer", "Buyside", "CCP"], "range": ["#9ea0a6", "#066a9a", "#d29a3e"]}},
        "stroke": {"field": "s", "type": "nominal", "scale": {"domain": ["Dealer", "Buyside", "CCP"], "range": ["#9ea0a6", "#066a9a", "#d29a3e"]}},
        "order": {"field": "s", "sort": "ascending"}
      }
    },
    {
      "data": {"values": [{"label": "Index"}]},
      "mark": {"type": "text", "align": "right", "baseline": "middle", "fontSize": 21, "font": "Liberation Sans", "color": "#000"},
      "encoding": {
        "x": {"datum": {"year": 2019, "month": 2, "date": 23, "utc": true}, "type": "temporal"},
        "y": {"datum": 289},
        "text": {"field": "label"}
      }
    }
  ]
},
{
  "width": 450, "height": 224,
  "layer": [
    {
      "data": {"name": "nix"},
      "transform": [{"fold": ["Dealer", "Buyside", "CCP"], "as": ["s", "v"]}, {"filter": "datum.v != 0"}],
      "mark": {"type": "bar", "clip": true, "strokeWidth": 1.6, "binSpacing": 0, "timeUnitBandSize": 1, "timeUnitBandPosition": 0},
      "encoding": {
        "x": {"field": "d", "type": "temporal", "timeUnit": "utcyearmonth", "title": null,
          "scale": {"domain": [{"year": 2010, "month": 1, "date": 1, "utc": true}, {"year": 2019, "month": 11, "date": 1, "utc": true}]},
          "axis": {"values": [{"year":2010,"utc":true},{"year":2011,"utc":true},{"year":2012,"utc":true},{"year":2013,"utc":true},{"year":2014,"utc":true},{"year":2015,"utc":true},{"year":2016,"utc":true},{"year":2017,"utc":true},{"year":2018,"utc":true},{"year":2019,"utc":true}], "labelExpr": "utcyear(datum.value) % 2 == 0 ? utcFormat(datum.value, '%Y') : ''", "tickSize": 11, "labelPadding": 5, "labelFlush": false}},
        "y": {"field": "v", "type": "quantitative", "stack": "zero", "scale": {"domain": [-4.5, 4.5], "nice": false},
          "axis": {"values": [-4, -2, 0, 2, 4], "labelExpr": "'' + datum.value", "tickSize": 10, "labelPadding": 14, "title": "Net notional (billions of U.S. dollars)", "titleAngle": 0, "titleAlign": "left", "titleBaseline": "middle", "titleX": -34, "titleY": -17}},
        "color": {"field": "s", "type": "nominal", "scale": {"domain": ["Dealer", "Buyside", "CCP"], "range": ["#9ea0a6", "#066a9a", "#d29a3e"]}},
        "stroke": {"field": "s", "type": "nominal", "scale": {"domain": ["Dealer", "Buyside", "CCP"], "range": ["#9ea0a6", "#066a9a", "#d29a3e"]}},
        "order": {"field": "s", "sort": "ascending"}
      }
    },
    {
      "data": {"values": [{}]},
      "mark": {"type": "rule", "color": "#000", "strokeWidth": 2.5},
      "encoding": {"y": {"datum": 0}}
    },
    {
      "data": {"values": [{"label": "Index"}]},
      "mark": {"type": "text", "align": "right", "baseline": "middle", "fontSize": 21, "font": "Liberation Sans", "color": "#000"},
      "encoding": {
        "x": {"datum": {"year": 2019, "month": 6, "date": 25, "utc": true}, "type": "temporal"},
        "y": {"datum": 3.57},
        "text": {"field": "label"}
      }
    }
  ]
}
]
}
